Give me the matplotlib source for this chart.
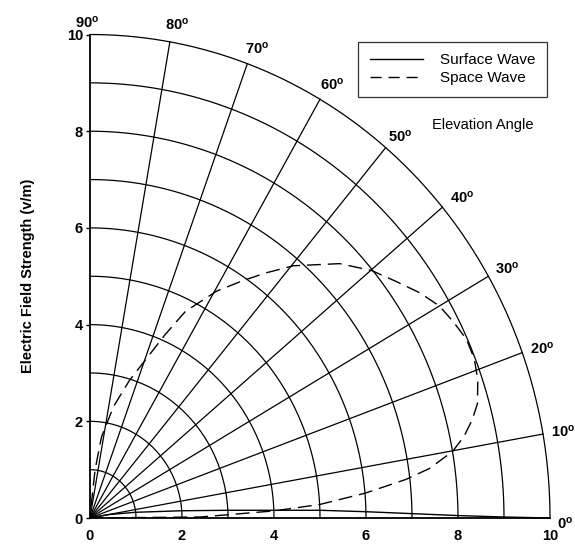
import numpy as np
import matplotlib
matplotlib.use("Agg")
import matplotlib.pyplot as plt
from matplotlib.lines import Line2D

plt.rcParams['font.family'] = ['Liberation Sans', 'DejaVu Sans']
plt.rcParams['mathtext.fontset'] = 'custom'
plt.rcParams['mathtext.rm'] = 'Liberation Sans'
plt.rcParams['mathtext.bf'] = 'Liberation Sans:bold'

# ---- data ----
grid_radii = [1, 2, 3, 4, 5, 6, 7, 8, 9, 10]
spoke_angles = [10, 20, 30, 40, 50, 60, 70, 80]
angle_labels = [0, 10, 20, 30, 40, 50, 60, 70, 80, 90]
tick_values = [0, 2, 4, 6, 8, 10]

surface_angle = [0, 0.13, 0.36, 0.74, 1.24, 1.83, 2.29, 3.05, 4.3, 6.8, 10.0, 15.0]
surface_field = [10.0, 9.0, 8.0, 7.0, 6.0, 5.0, 4.0, 3.0, 2.0, 1.0, 0.4, 0.0]

space_angle = [0, 0.5, 2.1, 3.2, 4.9, 6.6, 7.9, 9.9, 11.7, 13.7, 15.7, 18.7, 21.5,
               24.3, 27.2, 30.0, 33.0, 36.2, 39.9, 44.1, 49.7, 52.9, 55.9, 59.6,
               64.1, 66.7, 69.8, 73.3, 77.5, 81.5, 83.7, 84.0, 85.0]
space_field = [0, 2.4, 4.0, 5.0, 6.0, 6.9, 7.45, 8.0, 8.3, 8.55, 8.75, 8.9, 8.98,
               8.98, 8.88, 8.77, 8.55, 8.27, 7.98, 7.56, 6.84, 6.36, 5.93, 5.44,
               4.75, 4.13, 3.48, 2.96, 2.36, 1.70, 1.01, 0.44, 0.0]

# ---- figure ----
fig = plt.figure(figsize=(5.75, 5.5), dpi=100)
ax = fig.add_axes([90/575, (550-518)/550, 460/575, (518-34.5)/550])
ax.set_xlim(0, 10)
ax.set_ylim(0, 10)

gcol = 'black'
glw = 0.9
th = np.linspace(0, np.pi/2, 300)
for r in grid_radii:
    ax.plot(r*np.cos(th), r*np.sin(th), color=gcol, lw=glw, clip_on=False, zorder=1)
for a in spoke_angles:
    t = np.deg2rad(a)
    ax.plot([0, 10*np.cos(t)], [0, 10*np.sin(t)], color=gcol, lw=glw, zorder=1)

sa = np.deg2rad(surface_angle)
ax.plot(np.array(surface_field)*np.cos(sa), np.array(surface_field)*np.sin(sa),
        color='black', lw=1.0, zorder=3, clip_on=False)
pa = np.deg2rad(space_angle)
ax.plot(np.array(space_field)*np.cos(pa), np.array(space_field)*np.sin(pa),
        color='black', lw=1.0, dashes=(10, 5), zorder=3)

# angle labels: offsets in pixels (dx, dy) relative to spoke end, style only
offsets = {0: (7, -14), 10: (8, -6), 20: (8, -4), 30: (7, 0), 40: (8, 2),
           50: (2, 3), 60: (0, 7), 70: (-2, 7), 80: (-5, 9), 90: (-15, 4)}
for a in angle_labels:
    t = np.deg2rad(a)
    dx, dy = offsets[a]
    ax.annotate(r'$\mathbf{%d^o}$' % a, xy=(10*np.cos(t), 10*np.sin(t)),
                xytext=(dx*0.72, dy*0.72), textcoords='offset points',
                ha='left', va='bottom', fontsize=10.5, annotation_clip=False)

for s in ['top', 'right']:
    ax.spines[s].set_visible(False)
for s in ['left', 'bottom']:
    ax.spines[s].set_linewidth(1.3)

ax.set_xticks(tick_values)
ax.set_yticks(tick_values)
ax.set_xticklabels([str(v) for v in tick_values], fontweight='bold', fontsize=10.5)
ax.set_yticklabels([str(v) for v in tick_values], fontweight='bold', fontsize=10.5)
ax.tick_params(axis='x', length=0, pad=8)
ax.tick_params(axis='y', length=3, width=1, pad=2)

ax.set_ylabel('Electric Field Strength (v/m)', fontweight='bold', fontsize=10.5, labelpad=23)

handles = [Line2D([], [], color='black', lw=1.0),
           Line2D([], [], color='black', lw=1.0, dashes=(8, 5))]
leg = ax.legend(handles, ['Surface Wave', 'Space Wave'], loc='upper right',
                bbox_to_anchor=(547/575, 1 - 42/550), bbox_transform=fig.transFigure,
                fancybox=False, framealpha=1, edgecolor='#333333', fontsize=11,
                handlelength=3.5, borderpad=0.75, labelspacing=0.25, handletextpad=1.1,
                borderaxespad=0)
leg.get_frame().set_linewidth(0.9)

fig.text(432/575, 1 - 125/550, 'Elevation Angle', fontsize=10.5, va='center', ha='left')

fig.savefig('out.png', dpi=100)
